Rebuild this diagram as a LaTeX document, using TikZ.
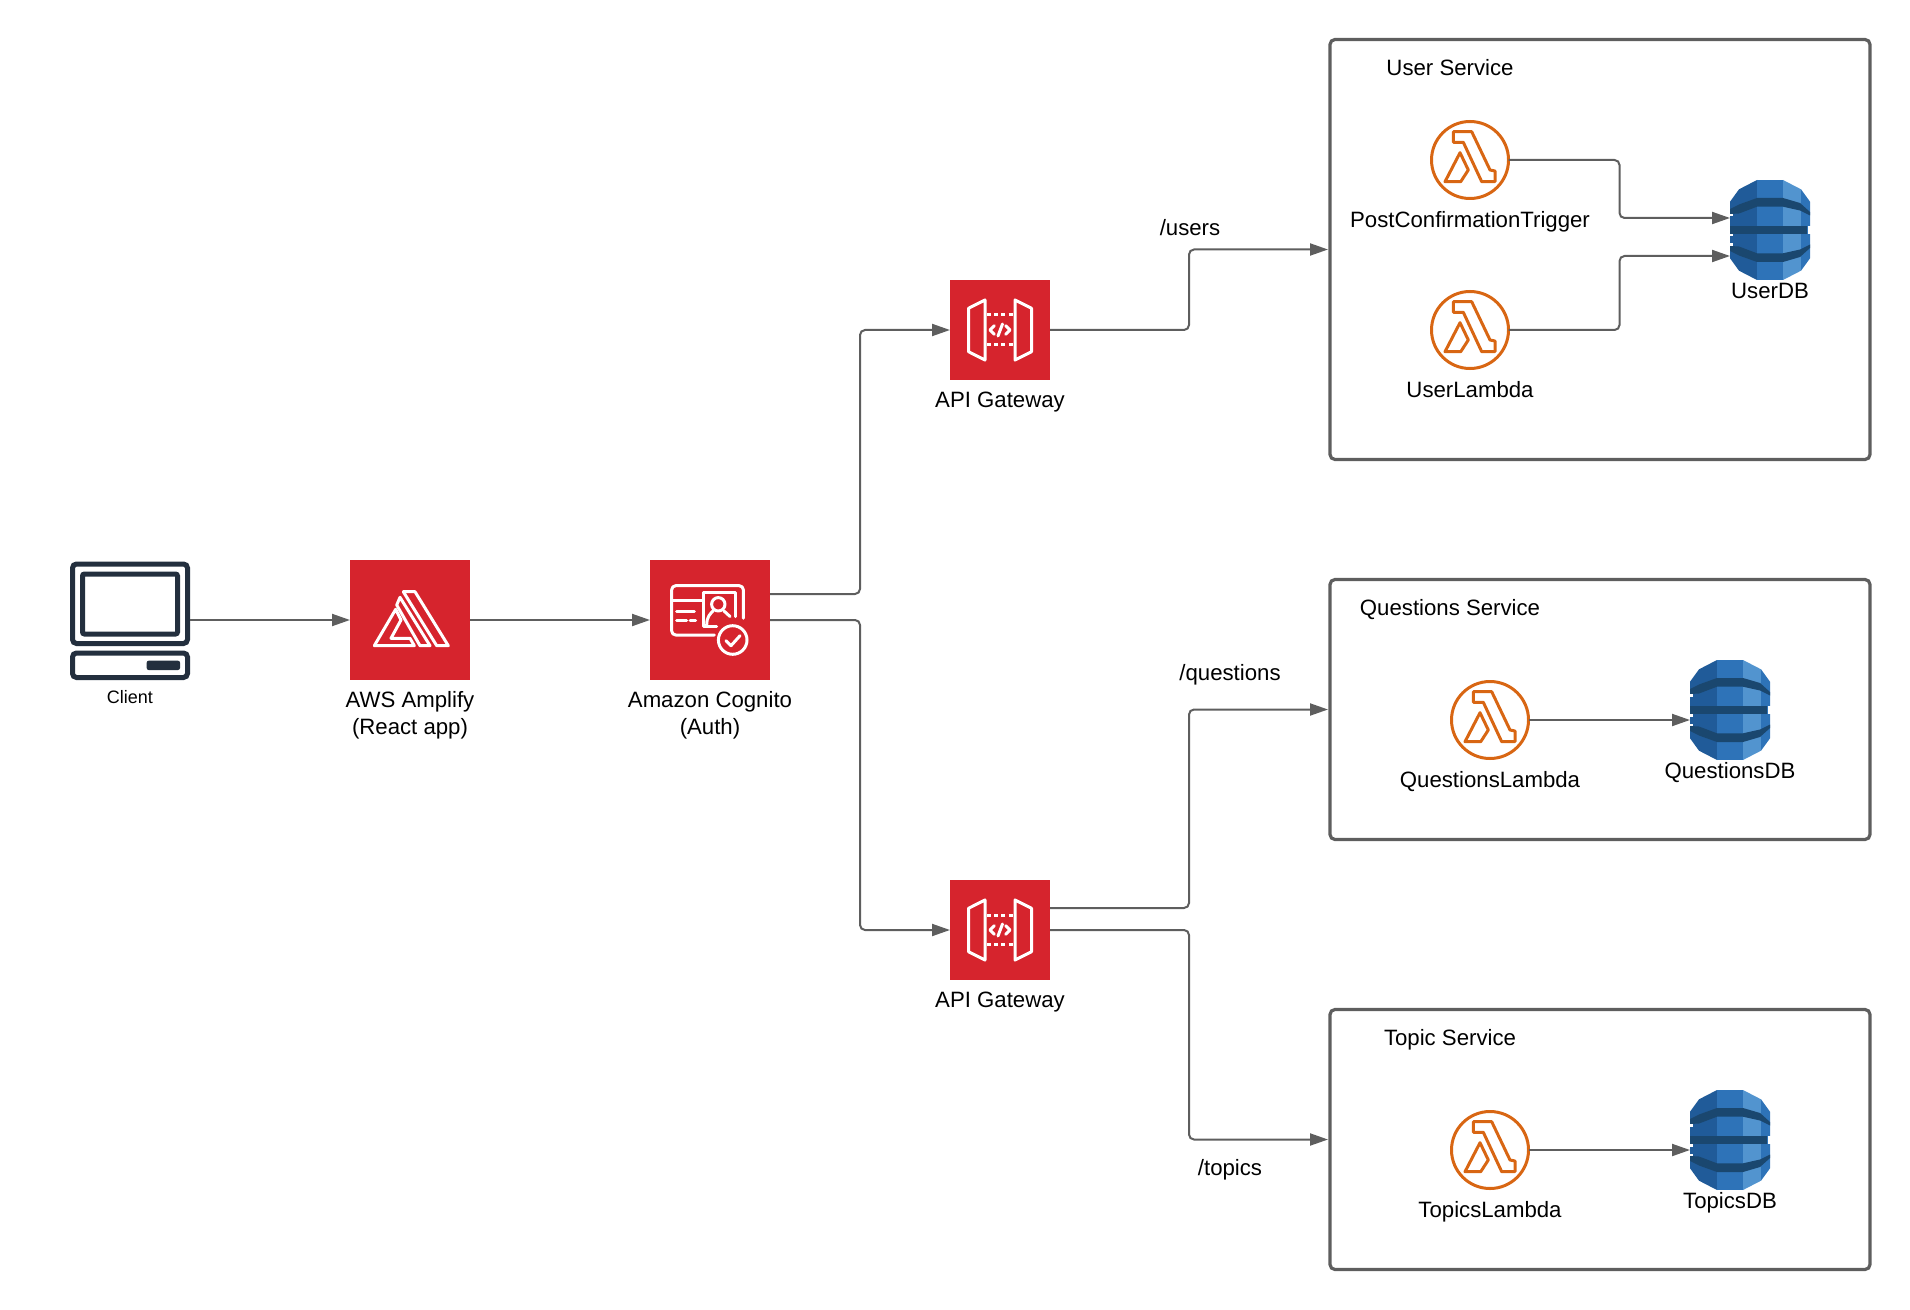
\documentclass[tikz,border=0pt]{standalone}
\usepackage{fontspec}
\setmainfont{Liberation Sans}
\usetikzlibrary{arrows.meta}
\definecolor{awsRed}{HTML}{D6242D}
\definecolor{awsOrange}{HTML}{D86613}
\definecolor{awsInk}{HTML}{232F3E}
\definecolor{lineGray}{HTML}{5E5E5E}
\definecolor{dbMid}{HTML}{2E73B8}
\definecolor{dbDark}{HTML}{205B99}
\definecolor{dbLight}{HTML}{5294CF}
\definecolor{dbBand}{HTML}{1A476F}

\tikzset{
  square/.style={fill=awsRed,inner sep=0pt,outer sep=0pt,minimum size=#1},
  lambdanode/.style={circle,draw=awsOrange,line width=1.5pt,inner sep=0pt,outer sep=0pt,minimum size=38.5pt},
  dbnode/.style={inner sep=0pt,outer sep=0pt,minimum width=40pt,minimum height=50pt},
  servicebox/.style={draw=lineGray,line width=1.6pt,rounded corners=2.5pt,inner sep=0pt,outer sep=0pt,minimum width=270pt,minimum height=#1},
  lbl/.style={font=\fontsize{11.1}{13.5}\selectfont,align=center,inner sep=0pt},
  link/.style={draw=lineGray,line width=1pt,rounded corners=2.5pt,-{Triangle[length=9pt,width=6pt]}},
  whiteline/.style={draw=white,line width=1.5pt,line join=round,line cap=round},
  pics/amplifyicon/.style={code={
    \draw[whiteline] (-6.7,-28.3)--(5,-28.3)--(38.3,25.7)--(26.7,25.7)--cycle;
    \draw[whiteline] (-10,-22.7)--(20,25.7)--(10,25.7)--(-13.3,-15)--cycle;
    \draw[whiteline] (-35.7,25.7)--(-14.3,-10.7)--(-9,0)--(-19,18.3)--(0,18.3)--(4.3,25.7)--cycle;
  }},
  pics/cognitoicon/.style={code={
    \draw[whiteline,rounded corners=2pt] (4.3,15)--(-38.3,15)--(-38.3,-34.3)--(33.3,-34.3)--(33.3,-1.7);
    \draw[whiteline] (-38.3,-20)--(-8.3,-20);
    \draw[whiteline] (-33.3,-9)--(-15.7,-9) (-33.3,0)--(-23.3,0) (-20,0)--(-14.3,0);
    \draw[whiteline] (6.7,6.7)--(-6.7,6.7)--(-6.7,-27.7)--(25,-27.7)--(25,-3.3);
    \draw[whiteline] (8.3,-15.7) circle (6.7);
    \draw[whiteline] (-3.3,5) .. controls (-3.3,-3) and (0,-6) .. (3,-9);
    \draw[whiteline] (14,-9)--(20,-3.5);
    \draw[whiteline] (22.7,20) circle (14.3);
    \draw[whiteline] (16,20.7)--(21,25.7)--(30,15.7);
  }},
  pics/gatewayicon/.style={code={
    \draw[whiteline] (-31.5,-21.7)--(-15,-30)--(-15,30)--(-31.5,21.7)--cycle;
    \draw[whiteline] (31.5,-21.7)--(15,-30)--(15,30)--(31.5,21.7)--cycle;
    \draw[whiteline,line cap=butt,dash pattern=on 2pt off 1.6pt] (-13,-15)--(14,-15);
    \draw[whiteline,line cap=butt,dash pattern=on 2pt off 1.6pt] (-13,14.5)--(14,14.5);
    \draw[whiteline] (-5.7,-4.3)--(-10,0)--(-5.7,4.3);
    \draw[whiteline] (5.7,-4.3)--(10,0)--(5.7,4.3);
    \draw[whiteline] (2.5,-6)--(-2,6);
  }},
  pics/lambdaicon/.style={code={
    \draw[awsOrange,line width=1.5pt,line join=round] (-16.7,-28.3)--(1.7,-28.3)--(20,10)--(25,11)--(25,21.7)--(11.7,21.7)--(-6.7,-17.7)--(-16.7,-17.7)--cycle;
    \draw[awsOrange,line width=1.5pt,line join=round] (-10,-7.3)--(-1.7,10)--(-9.3,21.7)--(-25,21.7)--cycle;
  }},
  pics/dynamoicon/.style={code={
    % kolumny bryly
    \fill[dbDark] (-40,-28.3)--(-31,-40.7)--(-31,40.7)--(-40,28.3)--cycle;
    \fill[dbDark] (-31,-40.7)--(-13,-50)--(-13,50)--(-31,40.7)--cycle;
    \fill[dbMid] (-13,-50)--(13,-50)--(13,50)--(-13,50)--cycle;
    \fill[dbLight] (13,-50)--(31,-40.7)--(31,40.7)--(13,50)--cycle;
    \fill[dbMid] (31,-40.7)--(40,-28.3)--(40,28.3)--(31,40.7)--cycle;
    % pasy
    \fill[dbBand] (-40,-16)--(-40,-21)--(-31,-25.5)--(-13,-32)--(13,-32)--(30,-27)--(40,-18)--(40,-14.5)--(30,-19.5)--(13,-23.3)--(-13,-23.3)--(-31,-16.5)--cycle;
    \fill[dbBand] (-40,-3.6) rectangle (37,3.6);
    \fill[dbBand] (-40,16)--(-40,21)--(-31,25.5)--(-13,32)--(13,32)--(30,27)--(40,18)--(40,14.5)--(30,19.5)--(13,23.3)--(-13,23.3)--(-31,16.5)--cycle;
    % wciecia z boku
    \fill[white] (-40.5,-16) rectangle (-37.5,-13.5);
    \fill[white] (-40.5,4) rectangle (-37.5,6.5);
    \fill[white] (37.5,-3.6) rectangle (40.5,3.6);
    \fill[white] (-40.5,13.5) rectangle (-37.5,16);
  }},
}

\begin{document}
\begin{tikzpicture}[x=0.5pt,y=-0.5pt]
  \useasboundingbox (0,0) rectangle (1910,1310);
  % klient
  \node[inner sep=0pt,outer sep=0pt,minimum width=60pt,minimum height=59pt] (client) at (130,620){};
  \draw[awsInk,line width=2.5pt,rounded corners=2pt] (72.5,564) rectangle (187.5,643.5);
  \draw[awsInk,line width=2.5pt,rounded corners=1pt] (82.5,574) rectangle (177.5,634);
  \draw[awsInk,line width=2.5pt,rounded corners=2pt] (72.5,653) rectangle (187.5,677.5);
  \fill[awsInk,rounded corners=1pt] (146.7,660.7) rectangle (180,670);
  \node[lbl,font=\fontsize{9}{11}\selectfont] (clientlabel) at (130,697){Client};

  % czerwone kwadraty
  \node[square=60pt] (amplify) at (410,620){};
  \node[square=60pt] (cognito) at (710,620){};
  \node[square=50pt] (gwa) at (1000,330){};
  \node[square=50pt] (gwb) at (1000,930){};
  \pic at (amplify) {amplifyicon};
  \pic at (cognito) {cognitoicon};
  \pic at (gwa) {gatewayicon};
  \pic at (gwb) {gatewayicon};
  \node[lbl] (amplifylabel) at (410,715){AWS Amplify\\(React app)};
  \node[lbl] (cognitolabel) at (710,715){Amazon Cognito\\(Auth)};
  \node[lbl] (gwalabel) at (1000,402.5){API Gateway};
  \node[lbl] (gwblabel) at (1000,1002.5){API Gateway};

  % uslugi
  \node[servicebox=210pt] (userbox) at (1600,249.5){};
  \node[servicebox=130pt] (questionsbox) at (1600,709.5){};
  \node[servicebox=130pt] (topicbox) at (1600,1139.5){};
  \node[lbl] (usertitle) at (1450,68){User Service};
  \node[lbl] (questionstitle) at (1450,610){Questions Service};
  \node[lbl] (topictitle) at (1450,1040){Topic Service};

  % lambdy
  \node[lambdanode] (lamtrigger) at (1470,160){};
  \node[lambdanode] (lamuser) at (1470,330){};
  \node[lambdanode] (lamquestions) at (1490,720){};
  \node[lambdanode] (lamtopics) at (1490,1150){};
  \foreach \n in {lamtrigger,lamuser,lamquestions,lamtopics}{\pic at (\n) {lambdaicon};}
  \node[lbl] (triggerlabel) at (1470,221.5){PostConfirmationTrigger};
  \node[lbl] (userlamlabel) at (1470,389.5){UserLambda};
  \node[lbl] (questionslamlabel) at (1490,782){QuestionsLambda};
  \node[lbl] (topicslamlabel) at (1490,1212){TopicsLambda};

  % bazy
  \node[dbnode] (userdb) at (1770,230){};
  \node[dbnode] (questionsdb) at (1730,710){};
  \node[dbnode] (topicsdb) at (1730,1140){};
  \foreach \n in {userdb,questionsdb,topicsdb}{\pic at (\n) {dynamoicon};}
  \node[lbl] (userdblabel) at (1770,291){UserDB};
  \node[lbl] (questionsdblabel) at (1730,772.5){QuestionsDB};
  \node[lbl] (topicsdblabel) at (1730,1202.5){TopicsDB};

  % polaczenia
  \draw[link] (client.east) -- (amplify.west);
  \draw[link] (amplify.east) -- (cognito.west);
  \draw[link] ([yshift=13pt]cognito.east) -- ++(90,0) |- (gwa.west);
  \draw[link] (cognito.east) -- ++(90,0) |- (gwb.west);
  \draw[link,shorten >=1pt] (gwa.east) -- ++(139,0) |- (userbox.west);
  \draw[link,shorten >=1pt] ([yshift=11pt]gwb.east) -- ++(139,0) |- (questionsbox.west);
  \draw[link,shorten >=1pt] (gwb.east) -- ++(139,0) |- (topicbox.west);
  \draw[link] (lamtrigger.east) -- ++(111,0) |- ([yshift=6pt]userdb.west);
  \draw[link] (lamuser.east) -- ++(111,0) |- ([yshift=-13pt]userdb.west);
  \draw[link] (lamquestions.east) -- (lamquestions.east -| questionsdb.west);
  \draw[link] (lamtopics.east) -- (lamtopics.east -| topicsdb.west);

  \node[lbl] (userspath) at (1190,228){/users};
  \node[lbl] (questionspath) at (1230,675){/questions};
  \node[lbl] (topicspath) at (1230,1170){/topics};
\end{tikzpicture}
\end{document}
